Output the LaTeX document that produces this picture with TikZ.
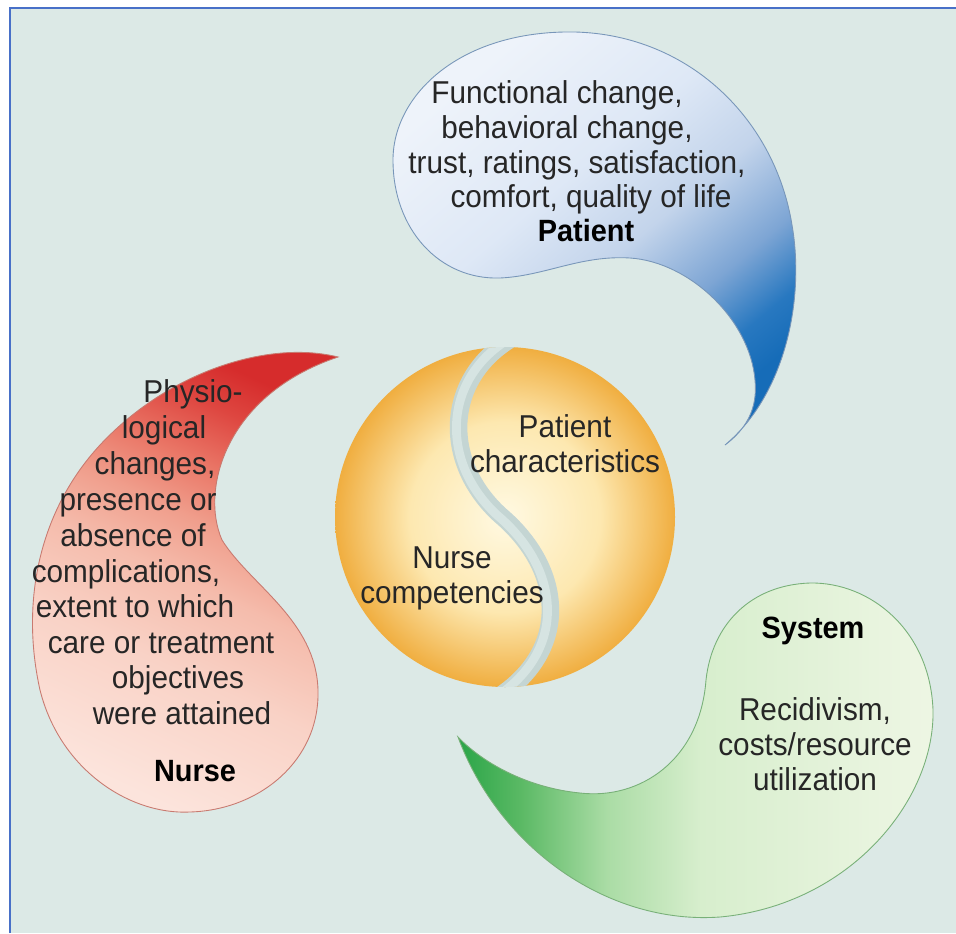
\documentclass[tikz,border=0pt]{standalone}
\usepackage{fontspec}
\setmainfont{Liberation Sans}[FakeStretch=0.94]
\definecolor{bgcol}{RGB}{220,233,230}
\definecolor{framecol}{RGB}{72,112,200}
\definecolor{txtcol}{RGB}{38,38,38}
\definecolor{bandcol}{RGB}{196,213,211}
\definecolor{bandlt}{RGB}{214,228,226}
% patient drop colours
\definecolor{pat1}{RGB}{22,108,184}
\definecolor{pat2}{RGB}{40,120,192}
\definecolor{pat3}{RGB}{125,165,212}
\definecolor{pat4}{RGB}{195,212,235}
\definecolor{pat5}{RGB}{222,232,246}
\definecolor{pat6}{RGB}{238,243,250}
\definecolor{patline}{RGB}{120,150,185}
% nurse drop colours
\definecolor{nur1}{RGB}{252,228,220}
\definecolor{nur2}{RGB}{249,210,198}
\definecolor{nur3}{RGB}{245,188,172}
\definecolor{nur4}{RGB}{240,158,140}
\definecolor{nur5}{RGB}{234,120,104}
\definecolor{nur6}{RGB}{222,70,64}
\definecolor{nur7}{RGB}{214,44,44}
\definecolor{nurline}{RGB}{200,122,112}
% system drop colours
\definecolor{sys1}{RGB}{42,165,72}
\definecolor{sys2}{RGB}{90,185,100}
\definecolor{sys3}{RGB}{170,220,165}
\definecolor{sys4}{RGB}{215,238,205}
\definecolor{sys5}{RGB}{238,246,228}
\definecolor{sysline}{RGB}{120,176,120}
\definecolor{ballin}{RGB}{255,249,226}
\definecolor{ballmid}{RGB}{253,232,176}
\definecolor{ballout}{RGB}{240,174,64}
\pgfdeclareradialshading{ballshade}{\pgfpoint{0bp}{0bp}}{color(0bp)=(ballin); color(14bp)=(ballmid); color(25bp)=(ballout); color(50bp)=(ballout)}
\pgfdeclareverticalshading{patshade}{100bp}{color(0bp)=(pat1); color(25bp)=(pat1); color(30bp)=(pat2); color(37bp)=(pat3); color(47bp)=(pat4); color(58bp)=(pat5); color(75bp)=(pat6); color(100bp)=(pat6)}
\pgfdeclareverticalshading{nurshade}{100bp}{color(0bp)=(nur1); color(25bp)=(nur1); color(40bp)=(nur2); color(50bp)=(nur3); color(57bp)=(nur4); color(63bp)=(nur5); color(70bp)=(nur6); color(75bp)=(nur7); color(100bp)=(nur7)}
\pgfdeclarehorizontalshading{sysshade}{100bp}{color(0bp)=(sys1); color(25bp)=(sys1); color(31.5bp)=(sys2); color(40.6bp)=(sys3); color(50.4bp)=(sys4); color(75bp)=(sys5); color(100bp)=(sys5)}
\tikzset{lbl/.style={font=\fontsize{18}{19.8}\selectfont,text=txtcol,inner sep=0pt},
         hdr/.style={lbl,font=\fontsize{17.5}{19.8}\selectfont\bfseries,text=black},
         drop/.style={line width=0.5pt}
}

\begin{document}
\begin{tikzpicture}[x=0.02cm,y=-0.02cm]
  \useasboundingbox (0,0) rectangle (956,933);
  \fill[bgcol] (10,8) rectangle (956,933);
  \draw[framecol,line width=1.3pt] (10,933) -- (10,8) -- (956,8);
  % patient drop, tail down to the right
  \draw[drop,draw=patline,shading=patshade,shading angle=40]
    (725,445) .. controls (785,395) and (805,300) .. (792,225)
    .. controls (775,120) and (690,35) .. (575,32)
    .. controls (460,30) and (393,95) .. (393,160)
    .. controls (393,230) and (440,280) .. (500,278)
    .. controls (545,276) and (580,255) .. (630,258)
    .. controls (690,262) and (750,320) .. (755,380)
    .. controls (758,410) and (745,430) .. (725,445) -- cycle;
  % nurse drop, tail up to the right
  \draw[drop,draw=nurline,shading=nurshade,shading angle=-25]
    (338,357) .. controls (270,340) and (170,370) .. (100,445)
    .. controls (40,510) and (20,600) .. (40,690)
    .. controls (60,770) and (130,815) .. (190,812)
    .. controls (260,810) and (320,760) .. (318,690)
    .. controls (316,620) and (250,585) .. (222,540)
    .. controls (200,490) and (225,395) .. (338,357) -- cycle;
  % system drop, tail to the left
  \draw[drop,draw=sysline,shading=sysshade]
    (458,737) .. controls (500,850) and (610,925) .. (720,917)
    .. controls (850,905) and (935,800) .. (933,710)
    .. controls (930,630) and (870,582) .. (810,583)
    .. controls (750,585) and (712,625) .. (706,680)
    .. controls (700,760) and (640,800) .. (580,793)
    .. controls (530,788) and (485,765) .. (458,737) -- cycle;
  % the ball in the middle
  \shade[shading=ballshade] (505,517) circle[radius=170];
  \begin{scope}
    \clip (505,517) circle[radius=170];
    \draw[bandcol,line width=10pt] (516,336) .. controls (445,375) and (440,460) .. (500,515)
      .. controls (565,570) and (570,650) .. (498,697);
    \draw[bandlt,line width=5pt] (514,336) .. controls (443,375) and (438,460) .. (497,515)
      .. controls (562,570) and (567,650) .. (496,697);
  \end{scope}
  \node[lbl,align=center] (patchar) at (565,444) {Patient\\characteristics};
  \node[lbl,align=center] (nurcomp) at (452,578) {Nurse\\competencies};
  % texts in the drops
  \foreach \xx/\yy/\txt [count=\i] in {557/103/{Functional change,},567/138/{behavioral change,},
      577/173/{trust, ratings, satisfaction,},591/207/{comfort, quality of life}}
    \node[lbl,anchor=base] (pat\i) at (\xx,\yy) {\txt};
  \node[hdr,anchor=base] (pattitle) at (586,241) {Patient};
  \foreach \xx/\yy/\txt [count=\i] in {193/402/Physio-,164/438/logical,155/474/{changes,},
      138/510/presence or,133/546/absence of,126/582/{complications,},135/617/extent to which,
      161/653/care or treatment,178/688/objectives,182/724/were attained}
    \node[lbl,anchor=base] (nur\i) at (\xx,\yy) {\txt};
  \node[hdr,anchor=base] (nurtitle) at (195,781) {Nurse};
  \node[hdr,anchor=base] (systitle) at (813,638) {System};
  \node[lbl,align=center] (sysbody) at (815,744) {Recidivism,\\costs/resource\\utilization};
\end{tikzpicture}
\end{document}
